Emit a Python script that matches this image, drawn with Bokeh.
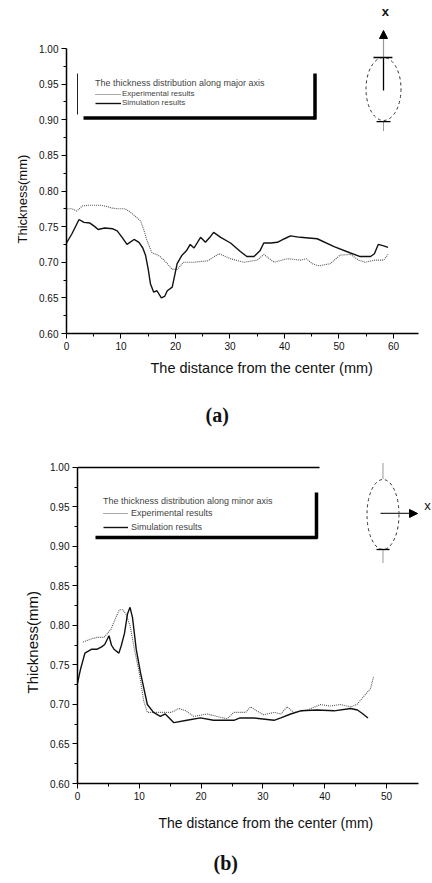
from bokeh.plotting import figure
from bokeh.models import (Range1d, FixedTicker, PrintfTickFormatter, Label, Legend,
                          LegendItem, Arrow, NormalHead, Title)
from bokeh.embed import file_html
from bokeh.resources import INLINE

# ---------------- data: (a) major axis ----------------
EXP_A_X = [0, 1, 1.9, 2.9, 4, 5, 6.3, 7.5, 8.4, 9.5, 10.8, 12.1, 13.6, 14.2, 14.8, 15.7,
           16.5, 17.2, 18.5, 19.4, 20.3, 21.5, 23.4, 25.9, 28.0, 30.1, 32.5, 35.0, 36.2,
           38.1, 40.5, 43.0, 44.0, 45.1, 46.3, 48.4, 50.2, 52.1, 53.6, 54.8, 56.6, 58.2, 59.0]
EXP_A_Y = [0.775, 0.775, 0.772, 0.779, 0.780, 0.780, 0.780, 0.778, 0.776, 0.775, 0.775,
           0.768, 0.758, 0.745, 0.730, 0.713, 0.711, 0.708, 0.698, 0.690, 0.690, 0.700,
           0.700, 0.702, 0.712, 0.705, 0.700, 0.703, 0.711, 0.700, 0.705, 0.703, 0.705,
           0.698, 0.695, 0.698, 0.710, 0.711, 0.703, 0.700, 0.703, 0.703, 0.711]
SIM_A_X = [0, 1, 2.3, 3.2, 4.3, 5.2, 5.8, 7, 8.5, 9.3, 10.2, 11.1, 12.4, 13.3, 14.0, 14.5,
           15.0, 15.4, 16.0, 16.6, 17.4, 18.0, 18.5, 19.4, 20.3, 21.2, 22.0, 22.7, 23.4,
           24.6, 25.5, 26.3, 27.0, 28.3, 30.1, 31.9, 33.1, 34.4, 35.5, 36.2, 37.5, 38.7,
           40.0, 41.1, 42.9, 46.0, 49.1, 52.1, 53.9, 55.8, 56.5, 57.2, 58.2, 59.0]
SIM_A_Y = [0.727, 0.740, 0.760, 0.756, 0.755, 0.750, 0.746, 0.748, 0.747, 0.744, 0.735,
           0.725, 0.732, 0.728, 0.720, 0.710, 0.690, 0.670, 0.658, 0.660, 0.650, 0.652,
           0.660, 0.665, 0.698, 0.710, 0.716, 0.725, 0.720, 0.735, 0.728, 0.735, 0.742,
           0.735, 0.727, 0.715, 0.708, 0.708, 0.716, 0.727, 0.727, 0.728, 0.733, 0.737,
           0.735, 0.733, 0.722, 0.713, 0.708, 0.708, 0.712, 0.725, 0.723, 0.721]

# ---------------- data: (b) minor axis ----------------
EXP_B_X = [0.9, 2.2, 3.2, 4.3, 5.4, 6.2, 6.8, 7.3, 7.8, 8.5, 9.2, 10.0, 10.7, 11.3, 12.5,
           14.0, 15.2, 16.4, 17.5, 18.8, 21.0, 22.5, 24.2, 25.3, 27.2, 28.0, 29.0, 30.1,
           31.8, 32.9, 33.9, 35.0, 37.2, 39.3, 40.9, 42.5, 44.2, 45.2, 46.3, 47.4, 47.9]
EXP_B_Y = [0.779, 0.783, 0.785, 0.785, 0.795, 0.810, 0.820, 0.820, 0.815, 0.800, 0.770,
           0.740, 0.705, 0.690, 0.690, 0.690, 0.690, 0.695, 0.692, 0.685, 0.688, 0.685,
           0.682, 0.690, 0.690, 0.697, 0.692, 0.687, 0.690, 0.688, 0.697, 0.690, 0.693,
           0.700, 0.698, 0.700, 0.697, 0.700, 0.710, 0.720, 0.735]
SIM_B_X = [0, 0.5, 1.2, 2.3, 3.2, 3.9, 4.4, 5.1, 5.5, 5.9, 6.7, 7.1, 7.6, 8.1, 8.5, 8.9,
           9.5, 10.2, 11.3, 12.3, 13.4, 14.2, 15.6, 17.7, 19.9, 22.0, 25.3, 26.3, 28.5,
           31.8, 32.9, 34.5, 36.1, 38.8, 41.5, 44.2, 45.3, 46.2, 47.0]
SIM_B_Y = [0.727, 0.745, 0.765, 0.770, 0.770, 0.773, 0.776, 0.787, 0.775, 0.770, 0.765,
           0.775, 0.790, 0.815, 0.823, 0.810, 0.770, 0.740, 0.700, 0.690, 0.685, 0.688,
           0.677, 0.680, 0.683, 0.680, 0.680, 0.683, 0.683, 0.680, 0.683, 0.688, 0.692,
           0.693, 0.692, 0.695, 0.693, 0.688, 0.683]

# ---------------- ticks / labels ----------------
Y_TICKS = [0.60, 0.65, 0.70, 0.75, 0.80, 0.85, 0.90, 0.95, 1.00]
Y_MINOR = [0.625, 0.675, 0.725, 0.775, 0.825, 0.875, 0.925, 0.975]
X_TICKS_A = [0, 10, 20, 30, 40, 50, 60]
X_MINOR_A = [5, 15, 25, 35, 45, 55]
X_TICKS_B = [0, 10, 20, 30, 40, 50]
X_MINOR_B = [5, 15, 25, 35, 45]
LEGEND_TITLE_A = "The thickness distribution along major axis"
LEGEND_TITLE_B = "The thickness distribution along minor axis"
SERIES_NAMES = ["Experimental results", "Simulation results"]
X_TITLE = "The distance from the center (mm)"
Y_TITLE = "Thickness(mm)"

FONT = "Liberation Sans"
EXP_STYLE = dict(line_color="#555555", line_width=1.1, line_dash="1 1")
SIM_STYLE = dict(line_color="#111111", line_width=1.4)


def style_axes(p, xt, xm, xmax):
    p.xgrid.visible = False
    p.ygrid.visible = False
    p.outline_line_color = None
    p.yaxis.bounds = (0.6, 1.0)
    p.xaxis.bounds = (0, xmax)
    p.yaxis.ticker = FixedTicker(ticks=Y_TICKS, minor_ticks=Y_MINOR)
    p.yaxis.formatter = PrintfTickFormatter(format="%.2f")
    p.xaxis.ticker = FixedTicker(ticks=xt, minor_ticks=xm)
    for ax in (p.xaxis[0], p.yaxis[0]):
        ax.axis_line_width = 1.5
        ax.axis_line_color = "black"
        ax.major_tick_out = 5
        ax.major_tick_in = 0
        ax.minor_tick_out = 3
        ax.minor_tick_in = 0
        ax.major_tick_line_width = 1
        ax.major_label_text_font = FONT
        ax.major_label_text_font_size = "10px"
        ax.major_label_text_color = "#111111"
        ax.major_label_standoff = 3


def make_legend(p, r_exp, r_sim, title, loc, tsize, lsize, lh, gw, standoff, tstand):
    leg = Legend(items=[LegendItem(label=SERIES_NAMES[0], renderers=[r_exp]),
                        LegendItem(label=SERIES_NAMES[1], renderers=[r_sim])],
                 title=title, location=loc)
    leg.title_text_font = FONT
    leg.title_text_font_size = tsize
    leg.title_text_font_style = "normal"
    leg.title_standoff = tstand
    leg.label_text_font = FONT
    leg.label_text_font_size = lsize
    leg.label_height = lh
    leg.glyph_height = lh
    leg.glyph_width = gw
    leg.label_standoff = standoff
    leg.spacing = 0
    leg.padding = 2
    leg.margin = 0
    leg.background_fill_alpha = 0
    leg.border_line_alpha = 0
    p.add_layout(leg)


def side_title(p, t, place, offset, standoff, size, font=FONT, style="normal"):
    p.add_layout(Title(text=t, align="left", offset=offset, standoff=standoff,
                       text_font=font, text_font_size=size, text_font_style=style,
                       text_color="#111111"), place)


def mark_text(p, x, y, t, size, style="normal"):
    p.add_layout(Label(x=x, y=y, text=t, text_font=FONT, text_font_size=size,
                       text_font_style=style, text_align="center",
                       text_baseline="middle", text_color="#111111"))


# ================= figure (a) =================
pa = figure(width=432, height=449, x_range=Range1d(0, 67.16), y_range=Range1d(0.6, 1.0674),
            output_backend="svg", toolbar_location=None,
            min_border_left=66, min_border_right=0, min_border_top=0, min_border_bottom=116)
style_axes(pa, X_TICKS_A, X_MINOR_A, 64.6)
ra_exp = pa.line(EXP_A_X, EXP_A_Y, **EXP_STYLE)
ra_sim = pa.line(SIM_A_X, SIM_A_Y, **SIM_STYLE)
make_legend(pa, ra_exp, ra_sim, LEGEND_TITLE_A, (27, 224), "9px", "8px", 8, 26, 1, 1)

# legend frame (thin left edge, heavy bottom/right shadow)
pa.segment(x0=[2.02], y0=[0.9649], x1=[2.02], y1=[0.9074], line_color="#222222", line_width=1)
pa.segment(x0=[3.12, 45.6], y0=[0.9025, 0.9649], x1=[45.69, 45.6], y1=[0.9025, 0.9003],
           line_color="black", line_width=3.5)

# schematic: ellipse with major axis arrow
pa.ellipse(x=[58.17], y=[0.9432], width=35, height=63, width_units="screen",
           height_units="screen", fill_color=None, line_color="#333333", line_dash="3 3",
           line_width=1)
pa.segment(x0=[58.17, 56.33, 56.9], y0=[0.941, 0.9874, 0.8975],
           x1=[58.17, 59.8, 59.45], y1=[0.9874, 0.9874, 0.8975],
           line_color="black", line_width=1.3)
pa.segment(x0=[58.17], y0=[0.8975], x1=[58.17], y1=[0.8849], line_color="#333333",
           line_dash="1 1", line_width=1)
pa.add_layout(Arrow(x_start=58.17, y_start=0.9874, x_end=58.17, y_end=1.0253,
                    line_color="#333333", line_dash="1 1", line_width=1.2,
                    end=NormalHead(size=8, fill_color="black", line_color="black")))
mark_text(pa, 58.5, 1.0519, "x", "13px", style="bold")

side_title(pa, X_TITLE, "below", 84, 11, "14.5px")
side_title(pa, "(a)", "below", 139, 41, "20px", font="Liberation Serif", style="bold")
side_title(pa, Y_TITLE, "left", 90, 14, "13px")

# ================= figure (b) =================
pb = figure(width=432, height=434, x_range=Range1d(0, 57.44), y_range=Range1d(0.6, 1.02278),
            output_backend="svg", toolbar_location=None,
            min_border_left=77, min_border_right=0, min_border_top=0, min_border_bottom=100)
style_axes(pb, X_TICKS_B, X_MINOR_B, 55.18)
rb_exp = pb.line(EXP_B_X, EXP_B_Y, **EXP_STYLE)
rb_sim = pb.line(SIM_B_X, SIM_B_Y, **SIM_STYLE)
make_legend(pb, rb_exp, rb_sim, LEGEND_TITLE_B, (24, 247), "9px", "9px", 14, 25, 3, 0)

# partial top frame line and legend shadow frame
pb.segment(x0=[0], y0=[1.0], x1=[39.16], y1=[1.0], line_color="black", line_width=1.5)
pb.segment(x0=[2.91, 38.67], y0=[0.9114, 0.9684], x1=[38.83, 38.67], y1=[0.9114, 0.9101],
           line_color="black", line_width=3.5)

# schematic: ellipse with minor axis arrow
pb.ellipse(x=[49.43], y=[0.9405], width=32, height=70, width_units="screen",
           height_units="screen", fill_color=None, line_color="#333333", line_dash="3 3",
           line_width=1)
pb.segment(x0=[49.43, 49.43], y0=[1.005, 0.8962], x1=[49.43, 49.43], y1=[0.9848, 0.8797],
           line_color="#333333", line_dash="1 1", line_width=1)
pb.segment(x0=[48.38], y0=[0.8962], x1=[50.49], y1=[0.8962], line_color="black",
           line_width=1.3)
pb.add_layout(Arrow(x_start=49.03, y_start=0.9418, x_end=55.02, y_end=0.9418,
                    line_color="#333333", line_width=1.2,
                    end=NormalHead(size=8, fill_color="black", line_color="black")))
mark_text(pb, 56.63, 0.952, "x", "13px")

side_title(pb, X_TITLE, "below", 81, 20, "14px")
side_title(pb, "(b)", "below", 136, 18, "20px", font="Liberation Serif", style="bold")
side_title(pb, Y_TITLE, "left", 90, 13, "15px")

open("out.html", "w").write(file_html([pa, pb], INLINE))
